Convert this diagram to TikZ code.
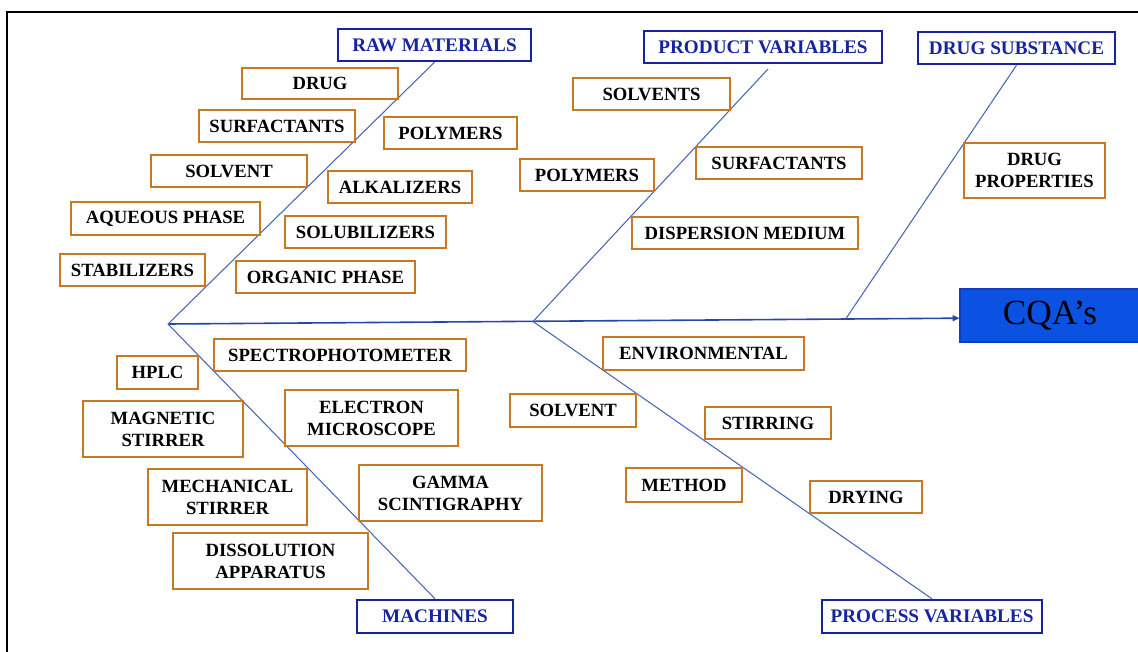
\documentclass[tikz,border=0pt]{standalone}
\usepackage{fontspec}
\setmainfont{Liberation Serif}
\usetikzlibrary{arrows.meta,backgrounds}
\definecolor{hdblue}{RGB}{22,36,160}
\definecolor{orng}{RGB}{198,120,34}
\definecolor{bonec}{RGB}{72,104,182}
\definecolor{spinec}{RGB}{40,70,170}
\definecolor{cqafill}{RGB}{12,82,226}
\definecolor{cqaline}{RGB}{20,60,190}
\newcommand\bx[7][obox]{\node[#1, minimum width={(#5-#3)*0.75pt}, minimum height={(#6-#4)*0.75pt}] (#2) at ({(#3+#5)/2},{(#4+#6)/2}) {#7};}
\begin{document}
\begin{tikzpicture}[x=0.75pt,y=-0.75pt,
  obox/.style={draw=orng, line width=2pt, fill=white, text=black, inner sep=0pt, align=center,
    font=\fontsize{14}{16.5}\selectfont\bfseries},
  hbox/.style={draw=hdblue, line width=1.8pt, fill=white, text=hdblue, inner sep=0pt, align=center,
    font=\fontsize{14.4}{16.5}\selectfont\bfseries},
  cbox/.style={draw=cqaline, line width=1pt, fill=cqafill, text=black, inner sep=0pt,
    font=\fontsize{26.5}{30}\selectfont},
  bonel/.style={draw=bonec, line width=0.8pt},
  spinel/.style={draw=spinec, line width=1.2pt}]
\useasboundingbox (0,0) rectangle (1138,651);
\clip (0,0) rectangle (1138,651);
\draw[black, line width=1pt] (7,12) rectangle (1150,665);
% heads
\bx[hbox]{raw}{338}{29}{531}{61}{RAW MATERIALS}
\bx[hbox]{prod}{644}{31}{882}{63}{PRODUCT VARIABLES}
\bx[hbox]{drugsub}{918}{32}{1115}{64}{DRUG SUBSTANCE}
\bx[hbox]{mach}{357}{600}{513}{633}{MACHINES}
\bx[hbox]{proc}{822}{600}{1042}{633}{PROCESS VARIABLES}
\bx[cbox]{cqa}{960}{289}{1140}{342}{CQA’s}
% raw materials
\bx{drug}{242}{68}{398}{99}{DRUG}
\bx{surf}{199}{110}{355}{142}{SURFACTANTS}
\bx{poly}{384}{117}{517}{149}{POLYMERS}
\bx{solv}{151}{155}{307}{187}{SOLVENT}
\bx{alk}{328}{171}{472}{203}{ALKALIZERS}
\bx{aq}{71}{202}{260}{235}{AQUEOUS PHASE}
\bx{solub}{285}{216}{446}{248}{SOLUBILIZERS}
\bx{stab}{60}{254}{205}{286}{STABILIZERS}
\bx{org}{236}{261}{415}{293}{ORGANIC PHASE}
% product variables
\bx{solvs}{573}{78}{730}{110}{SOLVENTS}
\bx{ppoly}{520}{159}{654}{191}{POLYMERS}
\bx{psurf}{696}{147}{862}{179}{SURFACTANTS}
\bx{disp}{632}{217}{858}{249}{DISPERSION MEDIUM}
% drug substance
\bx{dprop}{964}{143}{1105}{198}{DRUG\\PROPERTIES}
% machines
\bx{spec}{214}{339}{466}{371}{SPECTROPHOTOMETER}
\bx{hplc}{117}{356}{198}{389}{HPLC}
\bx{mag}{83}{401}{243}{457}{MAGNETIC\\STIRRER}
\bx{elec}{285}{390}{458}{446}{ELECTRON\\MICROSCOPE}
\bx{mech}{148}{469}{307}{525}{MECHANICAL\\STIRRER}
\bx{gamma}{359}{465}{542}{521}{GAMMA\\SCINTIGRAPHY}
\bx{diss}{173}{533}{368}{589}{DISSOLUTION\\APPARATUS}
% process variables
\bx{env}{603}{337}{804}{370}{ENVIRONMENTAL}
\bx{psolv}{510}{394}{636}{427}{SOLVENT}
\bx{stir}{705}{407}{831}{439}{STIRRING}
\bx{meth}{626}{468}{742}{502}{METHOD}
\bx{dry}{810}{481}{922}{513}{DRYING}
% skeleton
\coordinate (tail) at (168,324);
\coordinate (j1) at (533,321.5);
\coordinate (j2) at (846,318.5);
\coordinate (prodend) at (768,69);
\begin{scope}[on background layer]
\draw[spinel, -{Triangle[length=5pt,width=4.5pt]}] (tail) -- ([yshift=-2pt]cqa.west);
\draw[bonel] (tail) -- (raw.south);
\draw[bonel] (j1) -- (prodend);
\draw[bonel] (j2) -- (drugsub.south);
\draw[bonel] (tail) -- (mach.north);
\draw[bonel] (j1) -- (proc.north);
\end{scope}
\end{tikzpicture}
\end{document}
